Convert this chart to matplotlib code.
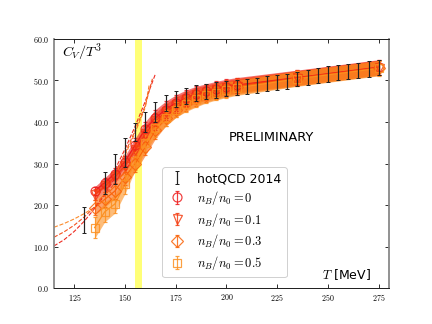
import numpy as np
import matplotlib
matplotlib.use("Agg")
import matplotlib.pyplot as plt
from matplotlib.ticker import FuncFormatter

plt.rcParams['mathtext.fontset'] = 'cm'

# hotQCD 2014
T_hq = [130, 140, 145, 150, 155, 160, 165, 170, 175, 180, 185, 190, 195, 200, 205,
        210, 215, 220, 225, 230, 235, 240, 245, 250, 255, 260, 265, 270, 275]
cv_hq = [16.5, 25.3, 28.7, 32.7, 37.6, 40.0, 42.4, 44.6, 45.5, 46.3, 46.9, 47.3, 47.75, 48.1, 48.3,
         48.6, 48.85, 49.25, 49.4, 49.75, 50.4, 50.7, 51.2, 51.5, 51.9, 52.2, 52.5, 52.75, 53.1]
err_hq = [3.1, 2.6, 3.5, 3.5, 2.1, 2.4, 2.5, 1.9, 1.9, 1.9, 1.9, 1.8, 1.85, 1.75, 1.7,
          1.8, 1.85, 1.8, 1.8, 1.85, 1.7, 1.9, 1.85, 1.95, 1.9, 1.8, 1.8, 1.95, 1.9]

# n_B/n_0 series
T_nb = [135, 140, 145, 150, 155, 160, 165, 170, 175, 180, 185, 190, 195, 200, 205, 235, 275]
cv_nb0 = [23.4, 25.4, 27.6, 30.5, 34.5, 38.3, 41.0, 43.0, 44.6, 45.8, 46.7, 47.4, 48.0, 48.5, 48.9, 50.7, 53.2]
cv_nb1 = [22.5, 24.5, 26.8, 29.5, 33.3, 37.2, 40.2, 42.4, 44.1, 45.4, 46.4, 47.1, 47.7, 48.2, 48.7, 50.6, 53.1]
cv_nb3 = [19.4, 21.4, 23.4, 26.8, 30.0, 34.0, 38.0, 41.0, 43.0, 44.6, 45.7, 46.6, 47.3, 47.9, 48.4, 50.5, 53.0]
cv_nb5 = [14.6, 18.4, 20.3, 25.0, 30.6, 35.0, 38.5, 41.0, 43.0, 44.4, 45.5, 46.4, 47.1, 47.7, 48.2, 50.4, 52.9]
err_nb0 = [1.0, 1.2, 1.3, 1.4, 1.6, 1.8, 2.0, 2.0, 1.9, 1.9, 1.9, 1.8, 1.8, 1.8, 1.8, 1.8, 1.8]
err_nb1 = [1.3, 1.4, 1.5, 1.6, 1.8, 1.9, 2.0, 2.0, 1.9, 1.9, 1.9, 1.8, 1.8, 1.8, 1.8, 1.8, 1.8]
err_nb3 = [1.8, 1.8, 1.8, 1.9, 2.0, 2.0, 2.0, 2.0, 1.9, 1.9, 1.9, 1.8, 1.8, 1.8, 1.8, 1.8, 1.8]
err_nb5 = [2.6, 2.4, 2.2, 2.2, 2.2, 2.1, 2.0, 2.0, 1.9, 1.9, 1.9, 1.8, 1.8, 1.8, 1.8, 1.8, 1.8]

labels_nb = [r'$n_B/n_0=0$', r'$n_B/n_0=0.1$', r'$n_B/n_0=0.3$', r'$n_B/n_0=0.5$']
colors_nb = ['#ee1c1c', '#f43c10', '#fa640a', '#fc9020']
markers_nb = ['o', 'v', 'D', 's']
msizes = [9, 9, 8, 8.5]

# dashed extrapolations (low T)
T_lo_a = [115, 120, 125, 130, 135, 140]
cv_lo_a = [14.7, 15.6, 16.7, 18.0, 19.5, 21.2]
T_lo_b = [115, 120, 125, 130, 135, 140, 145]
cv_lo_b = [12.3, 13.6, 15.2, 17.2, 19.6, 22.3, 25.3]
T_lo_c = [115, 120, 125, 130, 135, 140, 145]
cv_lo_c = [10.2, 11.7, 13.7, 16.2, 19.2, 22.6, 26.5]
# dashed extrapolations (high T)
T_hi_a = [145, 150, 155, 160, 165]
cv_hi_a = [28.5, 33.5, 39.0, 45.0, 51.6]
T_hi_b = [145, 150, 155, 160, 163.5]
cv_hi_b = [27.5, 32.5, 38.0, 44.0, 50.4]
T_hi_c = [145, 150, 155, 160, 162]
cv_hi_c = [27.0, 32.0, 37.5, 43.5, 49.2]

fig = plt.figure(figsize=(6, 4.5), dpi=72)
ax = fig.add_axes([0.125, 0.11, 0.775, 0.77])

ax.axvspan(154.7, 158.2, color='#ffff55', alpha=0.8, lw=0, zorder=0)

series = [cv_nb0, cv_nb1, cv_nb3, cv_nb5]
errs = [err_nb0, err_nb1, err_nb3, err_nb5]
handles = []
for cv, er, c, m, ms, lab in zip(series, errs, colors_nb, markers_nb, msizes, labels_nb):
    cv = np.array(cv); er = np.array(er)
    ax.fill_between(T_nb, cv - er, cv + er, color=c, alpha=0.6, lw=0, zorder=1)
    ax.plot(T_nb, cv, color=c, lw=1.2, zorder=2)
    h = ax.errorbar(T_nb, cv, yerr=er, fmt=m, color=c, mfc='none', mec=c, ms=ms,
                    mew=1.2, elinewidth=1.2, capsize=2, zorder=3, label=lab, alpha=0.85)
    handles.append(h)

# dashed lines
ax.plot(T_lo_a, cv_lo_a, '--', color='#fc8a2a', lw=1.1, zorder=2)
ax.plot(T_lo_b, cv_lo_b, '--', color='#f4501c', lw=1.1, zorder=2)
ax.plot(T_lo_c, cv_lo_c, '--', color='#ee2a20', lw=1.1, zorder=2)
ax.plot(T_hi_a, cv_hi_a, '--', color='#ee2a20', lw=1.1, zorder=2)
ax.plot(T_hi_b, cv_hi_b, '--', color='#f4501c', lw=1.1, zorder=2)
ax.plot(T_hi_c, cv_hi_c, '--', color='#fa7a24', lw=1.1, zorder=2)

hq = ax.errorbar(T_hq, cv_hq, yerr=err_hq, fmt='none', ecolor='#222222', elinewidth=1.2,
                 capsize=2, capthick=1.0, zorder=5, label='hotQCD 2014')

ax.set_xlim(115, 280)
ax.set_ylim(0, 60)
ax.set_xticks([125, 150, 175, 200, 225, 250, 275])
ax.set_yticks([0, 10, 20, 30, 40, 50, 60])
ax.xaxis.set_major_formatter(FuncFormatter(lambda v, p: r'$%d$' % v))
ax.yaxis.set_major_formatter(FuncFormatter(lambda v, p: r'$%.1f$' % v))
ax.tick_params(direction='in', top=True, right=True, length=4, labelsize=8)
ax.tick_params(axis='y', pad=5)
ax.tick_params(axis='x', pad=4)
for s in ['left', 'right']:
    ax.spines[s].set_color('#888888')
    ax.spines[s].set_linewidth(1.8)
for s in ['top', 'bottom']:
    ax.spines[s].set_color('#222222')
    ax.spines[s].set_linewidth(1.0)

ax.text(0.024, 0.945, r'$C_V/T^3$', transform=ax.transAxes, fontsize=14, va='center', ha='left')
ax.text(0.946, 0.056, r'$T$ [MeV]', transform=ax.transAxes, fontsize=12.5, va='center', ha='right')
ax.text(0.65, 0.606, 'PRELIMINARY', transform=ax.transAxes, fontsize=13, va='center', ha='center')

leg = ax.legend([hq] + handles, ['hotQCD 2014'] + labels_nb, loc='lower left',
                bbox_to_anchor=(0.305, 0.02), fontsize=12.5, labelspacing=0.3,
                handlelength=1.6, framealpha=0.9, edgecolor='#cccccc', borderpad=0.4)
leg.set_zorder(10)

fig.savefig('out.png', dpi=72)
